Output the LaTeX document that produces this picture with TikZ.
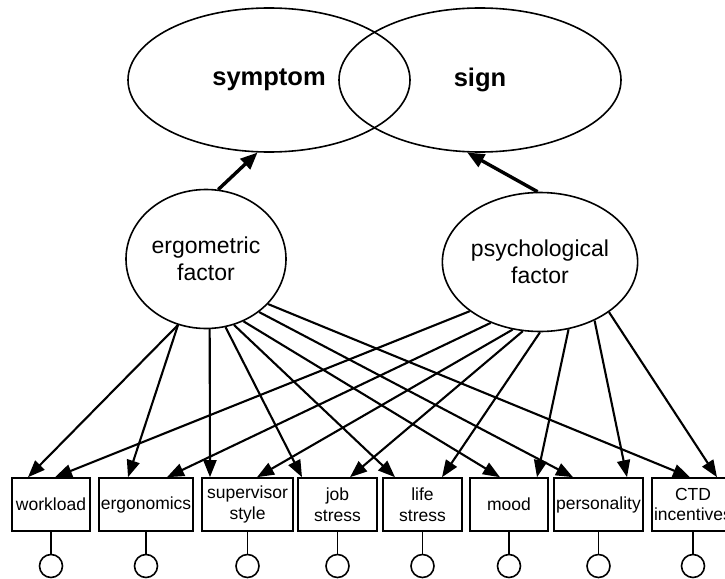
\documentclass[tikz,border=0pt]{standalone}
\usepackage{fontspec}
\setmainfont{Liberation Sans}
\usetikzlibrary{arrows.meta, positioning, calc, shapes.geometric}

\begin{document}
\begin{tikzpicture}[
  x=1pt, y=-1pt,
  lat/.style={draw, ellipse, line width=1.6pt, inner sep=0pt, align=center,
              font=\fontsize{23}{27}\selectfont},
  outc/.style={lat, minimum width=282pt, minimum height=144pt,
               font=\fontsize{25.5}{30}\selectfont\bfseries},
  var/.style={draw, rectangle, line width=1.6pt, minimum height=53pt,
              inner sep=1pt, align=center,
              font=\fontsize{17.5}{20.5}\selectfont},
  err/.style={draw, circle, line width=1.6pt, minimum size=23pt, inner sep=0pt},
  arr/.style={-{Triangle[length=17pt, width=13pt]}, line width=2.1pt},
  bigarr/.style={-{Triangle[length=17pt, width=14pt]}, line width=3.4pt}
]
  \useasboundingbox (0,0) rectangle (725,578);

  % outcomes
  \node[outc] (symptom) at (269,80) {symptom};
  \node[outc] (sign)    at (480,80) {sign};

  % factors
  \node[lat, minimum width=160pt, minimum height=139pt] (ergo)  at (206,259)
       {ergometric\\factor};
  \node[lat, minimum width=157pt, minimum height=139pt] (psych) at (540,262)
       {psychological\\factor};

  \draw[bigarr] (ergo.80)    -- (symptom.261);
  \draw[bigarr] (psych.92.5) -- (sign.260);

  % indicators
  \node[var, minimum width=78pt] (work)  at (51,504.5)    {workload};
  \node[var, minimum width=94pt] (ergon) at (146,504.5)   {ergonomics};
  \node[var, minimum width=91pt] (super) at (247.5,504.5) {supervisor\\style};
  \node[var, minimum width=79pt] (job)   at (337.5,504.5) {job\\stress};
  \node[var, minimum width=79pt] (life)  at (422.5,504.5) {life\\stress};
  \node[var, minimum width=78pt] (mood)  at (509,504.5)   {mood};
  \node[var, minimum width=89pt] (pers)  at (598.5,504.5) {personality};
  \node[var, minimum width=82pt] (ctd)   at (693,504.5)   {CTD\\incentives};

  % error terms
  \foreach \b/\x in {work/51, ergon/146, super/247.5, job/337.5,
                     life/422.5, mood/509, pers/598.5, ctd/693} {
    \node[err] (e\b) at (\x,566) {};
    \draw[line width=1.6pt] (\b) -- (e\b);
  }

  % loadings
  \foreach \a/\b/\s in {247.2/work/-23, 247.2/ergon/-18, 273/super/-37.5,
                        286/job/-35.5, 293/life/-27.5, 301.4/mood/-9,
                        315.5/pers/-25.5, 324.3/ctd/-3}
    \draw[arr] (ergo.\a) -- ([xshift=\s pt]\b.north);
  \foreach \a/\b/\s in {215.3/work/4, 231.8/ergon/21, 248.2/super/9.5,
                        256.9/job/12.5, 270/life/19.5, 293.2/mood/28,
                        313.5/pers/28.5, 324.7/ctd/24}
    \draw[arr] (psych.\a) -- ([xshift=\s pt]\b.north);
\end{tikzpicture}
\end{document}
